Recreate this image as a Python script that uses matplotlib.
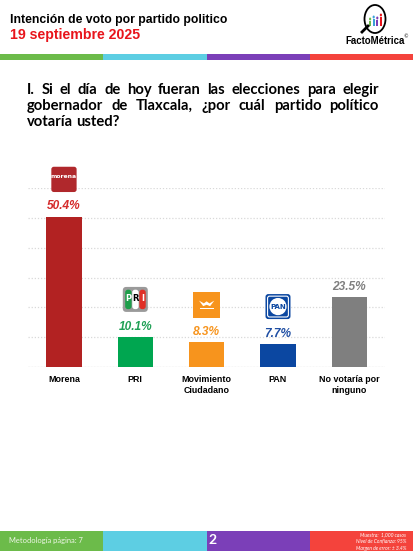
import numpy as np
import matplotlib
matplotlib.use("Agg")
import matplotlib.pyplot as plt
from matplotlib.patches import Rectangle, FancyBboxPatch, Circle, Polygon
from matplotlib.offsetbox import DrawingArea, AnnotationBbox

# data
parties = ["Morena", "PRI", "Movimiento\nCiudadano", "PAN", "No votaría por\nninguno"]
votes = [50.4, 10.1, 8.3, 7.7, 23.5]
bar_colors = ["#b22222", "#00a650", "#f7941d", "#0b47a1", "#7f7f7f"]
label_colors = ["#d42a2a", "#1fa055", "#f7941d", "#1f4ea3", "#7f7f7f"]
logos = ["morena", "pri", "mc", "pan", None]

title = "Intención de voto por partido politico"
date = "19 septiembre 2025"
question = ["I. Si el día de hoy fueran las elecciones para elegir",
            "gobernador de Tlaxcala, ¿por cuál partido político",
            "votaría usted?"]
notes = ["Muestra:  1,000 casos", "Nivel de Confianza: 95%", "Margen de error: ± 3.4%"]
stripe_colors = ["#6cbb4a", "#5dcee3", "#7b3fb8", "#f4433c"]

W, H = 413, 551
fig = plt.figure(figsize=(W / 100, H / 100), dpi=100)
fig.patch.set_facecolor("white")


def fx(px):
    return px / W


def fy(py):
    return 1 - py / H


# header
fig.text(fx(10), fy(20), title, fontsize=8.8, fontweight="bold",
         family="Liberation Sans", va="center", ha="left")
fig.text(fx(10), fy(35), date, fontsize=10.2, fontweight="bold",
         family="Liberation Sans", color="#e8141b", va="center", ha="left")

# stripes top and bottom
seg = W / 4
for i, c in enumerate(stripe_colors):
    fig.patches.append(Rectangle((fx(i * seg), fy(60)), seg / W, 6 / H,
                                 transform=fig.transFigure, color=c, lw=0))
    fig.patches.append(Rectangle((fx(i * seg), 0), seg / W, 20.5 / H,
                                 transform=fig.transFigure, color=c, lw=0))

# FactoMétrica logo
fig.patches.append(Circle((fx(375), fy(19)), 10.5 / W, transform=fig.transFigure,
                          fill=False, ec="black", lw=1.3))
fig.lines.append(plt.Line2D([fx(362), fx(368)], [fy(32), fy(26)],
                            transform=fig.transFigure, color="black", lw=2))
for k, (c, h) in enumerate(zip(["#6cbb4a", "#3aa0d8", "#7b3fb8", "#e8141b"], [5, 7, 6, 9])):
    xx = 369 + k * 3.6
    fig.patches.append(Rectangle((fx(xx), fy(26)), 2.2 / W, h / H,
                                 transform=fig.transFigure, color=c, lw=0))
    fig.patches.append(Circle((fx(xx + 1.1), fy(26 - h - 2)), 1.1 / W,
                              transform=fig.transFigure, color=c, lw=0))
fig.text(fx(375), fy(41), "FactoMétrica", fontsize=6.9, fontweight="bold",
         family="Liberation Sans", ha="center", va="center")
fig.text(fx(406), fy(37), "©", fontsize=3.5, ha="center", va="center")

# question, justified
renderer = fig.canvas.get_renderer()
x0, x1 = 27, 379
for k, line in enumerate(question):
    words = line.split(" ")
    ts = [fig.text(0, 0, w, fontsize=10.6, fontweight="bold", family="Lato",
                   va="center", ha="left") for w in words]
    widths = [t.get_window_extent(renderer).width for t in ts]
    if k == len(question) - 1:
        gap = 3.2
    else:
        gap = (x1 - x0 - sum(widths)) / (len(words) - 1)
    x = x0
    for t, w in zip(ts, widths):
        t.set_position((fx(x), fy(90 + k * 16)))
        x += w + gap

# chart
ax = fig.add_axes([fx(28.3), fy(367), fx(385) - fx(28.3), (367 - 188.3) / H])
xs = np.arange(len(parties))
ax.bar(xs, votes, width=0.495, color=bar_colors, zorder=3)
ax.set_xlim(-0.5, len(parties) - 0.5)
ax.set_ylim(0, 60)
ax.set_yticks(np.arange(0, 61, 10))
ax.yaxis.grid(True, color="#d9d9d9", linestyle=(0, (1, 1.5)), lw=0.9, zorder=0)
ax.tick_params(axis="y", left=False, labelleft=False)
ax.set_xticks(xs)
ax.set_xticklabels(parties, fontsize=6.4, fontweight="bold", family="Liberation Sans",
                   linespacing=1.25)
ax.tick_params(axis="x", length=0, pad=6)
for s in ax.spines.values():
    s.set_visible(False)
ax.axhline(0, color="#d0d0d0", lw=0.8, zorder=2)
ax.set_facecolor("none")

for i, v in enumerate(votes):
    ax.annotate(f"{v}%", (i, v), xytext=(0, 7.5), textcoords="offset points",
                ha="center", va="center", fontsize=8.6, fontweight="bold",
                style="italic", color=label_colors[i], family="Liberation Sans")


def make_logo(kind):
    da = DrawingArea(19, 19, 0, 0)
    if kind == "morena":
        da.add_artist(FancyBboxPatch((0.4, 0.4), 18.2, 18.2,
                                     boxstyle="round,pad=0,rounding_size=1.8",
                                     fc="#b0282c", ec="none"))
        da.add_artist(plt.Text(9.5, 11.5, "morena", fontsize=4.4, fontweight="bold",
                               color="white", ha="center", va="center"))
        da.add_artist(Rectangle((3, 7.3), 13, 0.5, fc="#e6b0b0", ec="none"))
    elif kind == "pri":
        da.add_artist(FancyBboxPatch((0.5, 0.5), 18, 18,
                                     boxstyle="round,pad=0,rounding_size=2.5",
                                     fc="#9a9a9a", ec="none"))
        for xx, c in zip([2.2, 7.3, 12.4], ["#1e9e4a", "white", "#e03027"]):
            da.add_artist(FancyBboxPatch((xx, 2.5), 4.6, 14,
                                         boxstyle="round,pad=0,rounding_size=2",
                                         fc=c, ec="none"))
        for xx, ch, c in zip([4.5, 9.6, 14.7], "PRI", ["white", "black", "white"]):
            da.add_artist(plt.Text(xx, 10.5, ch, fontsize=6, fontweight="bold",
                                   color=c, ha="center", va="center"))
    elif kind == "mc":
        da.add_artist(Rectangle((0, 0), 19, 19, fc="#f7941d", ec="none"))
        da.add_artist(Polygon([(4, 12.5), (7.5, 10.5), (9.5, 12), (11.5, 10.5), (15, 12.5),
                               (12, 8.5), (9.5, 9.5), (7, 8.5)], fc="white", ec="none"))
        da.add_artist(Rectangle((4.5, 6.8), 10, 0.7, fc="white", ec="none"))
        da.add_artist(Rectangle((5.5, 5.4), 8, 0.5, fc="white", ec="none"))
    elif kind == "pan":
        da.add_artist(FancyBboxPatch((0.5, 0.5), 18, 18,
                                     boxstyle="round,pad=0,rounding_size=2",
                                     fc="#0b47a1", ec="none"))
        da.add_artist(FancyBboxPatch((2, 2), 15, 15,
                                     boxstyle="round,pad=0,rounding_size=1.5",
                                     fc="none", ec="white", lw=0.8))
        da.add_artist(Circle((9.5, 9.5), 6.2, fc="white", ec="none"))
        da.add_artist(plt.Text(9.5, 9.5, "PAN", fontsize=5, fontweight="bold",
                               color="#0b47a1", ha="center", va="center"))
    return da


for i, (v, kind) in enumerate(zip(votes, logos)):
    if kind is None:
        continue
    ab = AnnotationBbox(make_logo(kind), (i, v), xybox=(0, 17.5), xycoords="data",
                        boxcoords="offset points", box_alignment=(0.5, 0),
                        frameon=False, pad=0, annotation_clip=False)
    ab.set_zorder(4)
    ax.add_artist(ab)

# footer
fig.text(fx(9), fy(541), "Metodología página: 7", fontsize=5.4, family="Lato",
         color="#eef6e6", va="center", ha="left")
fig.text(fx(213), fy(540), "2", fontsize=10, fontweight="bold", family="Lato",
         color="white", va="center", ha="center")
for k, n in enumerate(notes):
    fig.text(fx(406), fy(534.5 + k * 6.8), n, fontsize=3.6, style="italic",
             family="Lato", color="white", va="center", ha="right")

fig.savefig("out.png", dpi=100)
